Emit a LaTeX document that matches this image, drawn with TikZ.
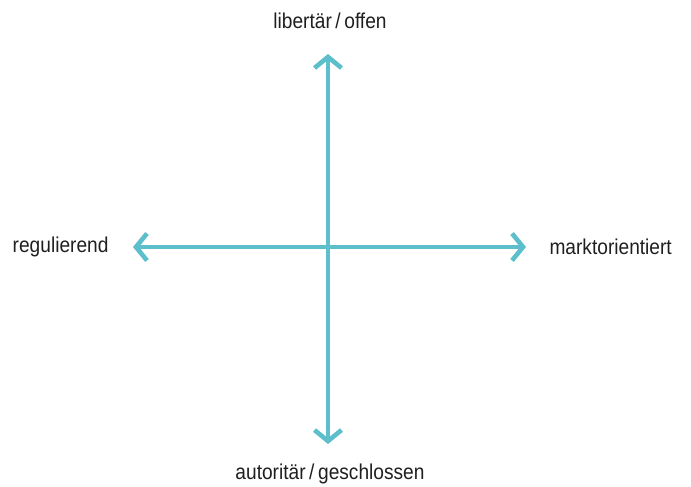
\documentclass[tikz,border=0pt]{standalone}
\usepackage{fontspec}
\setmainfont[FakeStretch=0.89]{Liberation Sans}
\usetikzlibrary{arrows.meta}
\definecolor{achse}{HTML}{5CBFCB}
\tikzset{
  achsenpfeil/.style={draw=achse, line width=4.6pt,
    {Straight Barb[length=11pt,width=27pt]}-{Straight Barb[length=11pt,width=27pt]}},
  beschriftung/.style={font=\fontsize{21.5}{25}\selectfont, text=black!88}
}
\begin{document}
\begin{tikzpicture}[x=1pt,y=-1pt]
            \useasboundingbox (0,0) rectangle (691,487);
            \coordinate (n) at (328,54);
            \coordinate (s) at (328,444);
            \coordinate (w) at (133,247);
            \coordinate (o) at (526,247);
            \draw[achsenpfeil] (s) -- (n);
            \draw[achsenpfeil] (w) -- (o);
            \node[beschriftung] (oben) at (330,21) {libertär\,/\,offen};
            \node[beschriftung] (unten) at (330,474) {autoritär\,/\,geschlossen};
            \node[beschriftung, anchor=east] (links) at (112,247) {regulierend};
            \node[beschriftung, anchor=west] (rechts) at (546,247) {marktorientiert};
        \end{tikzpicture}
\end{document}
